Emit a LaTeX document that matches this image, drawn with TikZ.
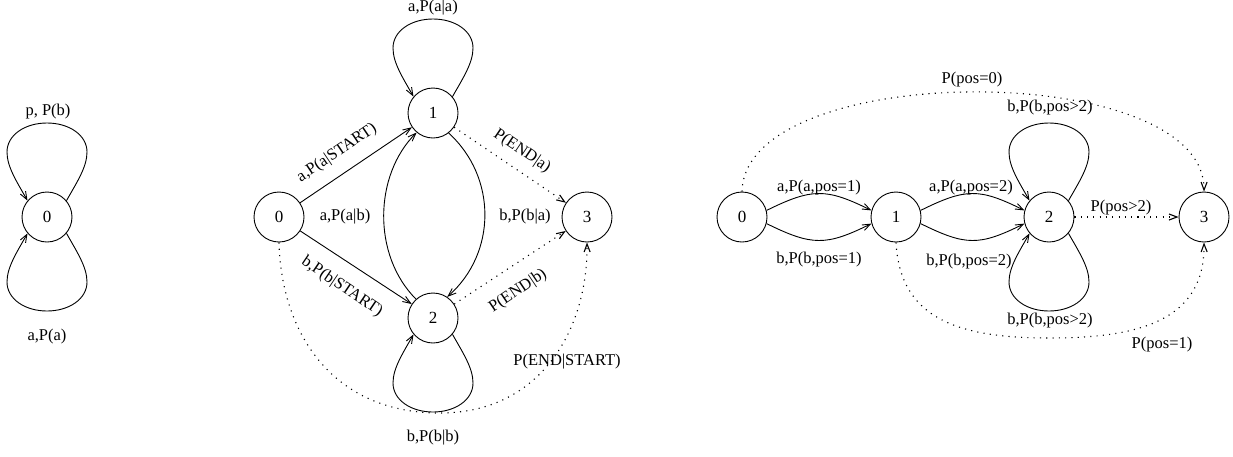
\documentclass[tikz,border=0pt]{standalone}
\usepackage{fontspec}
\setmainfont{Liberation Serif}
\usetikzlibrary{arrows.meta,calc}
\newcommand\toploop[1]{%
 \draw[arr] (#1.40) .. controls ($(#1)+(30,-35)$) and ($(#1)+(40,-50)$) .. ($(#1)+(40,-65)$)
  .. controls ($(#1)+(40,-82)$) and ($(#1)+(22,-94)$) .. ($(#1)+(0,-94)$)
  .. controls ($(#1)+(-22,-94)$) and ($(#1)+(-40,-82)$) .. ($(#1)+(-40,-65)$)
  .. controls ($(#1)+(-40,-50)$) and ($(#1)+(-30,-35)$) .. (#1.140);}
\newcommand\botloop[1]{%
 \draw[arr] (#1.-40) .. controls ($(#1)+(30,35)$) and ($(#1)+(40,50)$) .. ($(#1)+(40,65)$)
  .. controls ($(#1)+(40,82)$) and ($(#1)+(22,94)$) .. ($(#1)+(0,94)$)
  .. controls ($(#1)+(-22,94)$) and ($(#1)+(-40,82)$) .. ($(#1)+(-40,65)$)
  .. controls ($(#1)+(-40,50)$) and ($(#1)+(-30,35)$) .. (#1.-140);}
\begin{document}
\begin{tikzpicture}[x=1pt,y=-1pt,
  st/.style={draw,circle,minimum size=50pt,inner sep=0pt,line width=0.9pt,font=\fontsize{17}{20}\selectfont},
  lbl/.style={font=\fontsize{16.5}{19}\selectfont,inner sep=0pt},
  arr/.style={line width=0.9pt,-{Straight Barb[length=8pt,width=6pt]}},
  dots/.style={line width=1.1pt,dash pattern=on 1.1pt off 5.2pt}]
\useasboundingbox (0,0) rectangle (1233,456);
% left automaton
\node[st] (L0) at (47,217) {0};
\toploop{L0}
\botloop{L0}
\node[lbl] (tL0b) at (48,112) {p, P(b)};
\node[lbl] (tL0a) at (47,337) {a,P(a)};
% middle automaton
\node[st] (M0) at (279,217) {0};
\node[st] (M1) at (433,113) {1};
\node[st] (M2) at (433,318) {2};
\node[st] (M3) at (587,217) {3};
\toploop{M1}
\botloop{M2}
\draw[arr] (M0) -- (M1);
\draw[arr] (M0) -- (M2);
\draw[arr] (M2.132) .. controls (372,255) and (374,175) .. (M1.230);
\draw[arr] (M1.-52) .. controls (497,177) and (497,253) .. (M2.56);
\draw[arr,dots] (M1) -- (M3);
\draw[arr,dots] (M2) -- (M3);
\draw[arr,dots] (M0.south) .. controls (281,330) and (330,413) .. (440,413)
  .. controls (540,413) and (588,330) .. (M3.south);
\node[lbl] (tM11) at (433,8) {a,P(a|a)};
\node[lbl] (tM22) at (433,438) {b,P(b|b)};
\node[lbl,rotate=34] (tM01) at (337,153) {a,P(a|START)};
\node[lbl] (tM21) at (345,217) {a,P(a|b)};
\node[lbl,rotate=-34] (tM02) at (342,287) {b,P(b|START)};
\node[lbl,rotate=-34] (tM13) at (522,151) {P(END|a)};
\node[lbl] (tM12) at (525,217) {b,P(b|a)};
\node[lbl,rotate=34] (tM23) at (518,291) {P(END|b)};
\node[lbl] (tM03) at (567,362) {P(END|START)};
% right automaton
\node[st] (R0) at (742,217) {0};
\node[st] (R1) at (896,217) {1};
\node[st] (R2) at (1049,217) {2};
\node[st] (R3) at (1204,217) {3};
\toploop{R2}
\botloop{R2}
\draw[arr] (R0.15) .. controls (812,188) and (826,188) .. (R1.165);
\draw[arr] (R0.-15) .. controls (812,246) and (826,246) .. (R1.-165);
\draw[arr] (R1.15) .. controls (966,188) and (979,188) .. (R2.165);
\draw[arr] (R1.-15) .. controls (966,246) and (979,246) .. (R2.-165);
\draw[arr,dots] (R2) -- (R3);
\draw[arr,dots] (R0.north) .. controls (745,59) and (1205,59) .. (R3.north);
\draw[arr,dots] (R1.south) .. controls (900,320) and (960,338) .. (1050,338)
  .. controls (1140,338) and (1205,320) .. (R3.south);
\node[lbl] (tR01a) at (819,188) {a,P(a,pos=1)};
\node[lbl] (tR01b) at (819,260) {b,P(b,pos=1)};
\node[lbl] (tR12a) at (971,188) {a,P(a,pos=2)};
\node[lbl] (tR12b) at (969,262) {b,P(b,pos=2)};
\node[lbl] (tR22t) at (1050,108) {b,P(b,pos>2)};
\node[lbl] (tR22b) at (1050,321) {b,P(b,pos>2)};
\node[lbl] (tR23) at (1121,208) {P(pos>2)};
\node[lbl] (tR03) at (972,80) {P(pos=0)};
\node[lbl] (tR13) at (1162,345) {P(pos=1)};
\end{tikzpicture}
\end{document}
